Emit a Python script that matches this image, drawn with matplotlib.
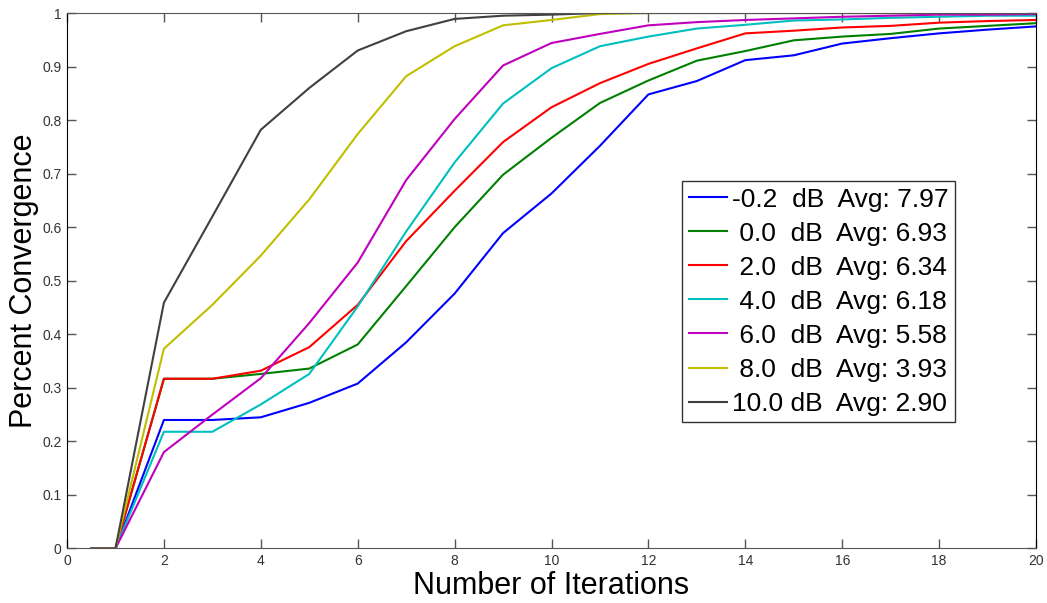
import matplotlib
matplotlib.use('Agg')
import matplotlib.pyplot as plt

# --------------------------------------------------
# Data
# --------------------------------------------------
iterations = [0.5, 1, 2, 3, 4, 5, 6, 7, 8, 9, 10, 11, 12, 13, 14, 15, 16, 17, 18, 19, 20]

snr_db = [-0.2, 0.0, 2.0, 4.0, 6.0, 8.0, 10.0]
avg_iters = [7.97, 6.93, 6.34, 6.18, 5.58, 3.93, 2.90]

conv_m02 = [0, 0, 0.240, 0.240, 0.245, 0.272, 0.308, 0.385, 0.476, 0.589, 0.663, 0.752,
            0.848, 0.873, 0.912, 0.921, 0.943, 0.953, 0.962, 0.969, 0.975]
conv_00 = [0, 0, 0.317, 0.317, 0.326, 0.336, 0.381, 0.490, 0.600, 0.698, 0.767, 0.832,
           0.874, 0.911, 0.929, 0.949, 0.956, 0.961, 0.971, 0.976, 0.981]
conv_20 = [0, 0, 0.317, 0.317, 0.332, 0.376, 0.455, 0.574, 0.668, 0.759, 0.824, 0.869,
           0.905, 0.934, 0.962, 0.967, 0.973, 0.976, 0.982, 0.985, 0.987]
conv_40 = [0, 0, 0.218, 0.218, 0.269, 0.326, 0.452, 0.592, 0.721, 0.831, 0.897, 0.938,
           0.956, 0.971, 0.978, 0.986, 0.988, 0.991, 0.993, 0.995, 0.995]
conv_60 = [0, 0, 0.180, 0.250, 0.318, 0.421, 0.534, 0.688, 0.802, 0.902, 0.944, 0.961,
           0.977, 0.983, 0.987, 0.990, 0.993, 0.995, 0.997, 0.997, 0.998]
conv_80 = [0, 0, 0.373, 0.455, 0.547, 0.652, 0.774, 0.882, 0.938, 0.977, 0.987, 0.998,
           1.0, 1.0, 1.0, 1.0, 1.0, 1.0, 1.0, 1.0, 1.0]
conv_100 = [0, 0, 0.459, 0.620, 0.782, 0.860, 0.930, 0.966, 0.989, 0.995, 0.997, 1.0,
            1.0, 1.0, 1.0, 1.0, 1.0, 1.0, 1.0, 1.0, 1.0]

curves = [conv_m02, conv_00, conv_20, conv_40, conv_60, conv_80, conv_100]
colors = ['#0000ff', '#008000', '#ff0000', '#00bfbf', '#bf00bf', '#bfbf00', '#404040']

x_ticks = [0, 2, 4, 6, 8, 10, 12, 14, 16, 18, 20]
y_ticks = [0, 0.1, 0.2, 0.3, 0.4, 0.5, 0.6, 0.7, 0.8, 0.9, 1]
y_tick_labels = ['0', '0.1', '0.2', '0.3', '0.4', '0.5', '0.6', '0.7', '0.8', '0.9', '1']

# --------------------------------------------------
# Plot
# --------------------------------------------------
plt.rcParams['font.family'] = ['Liberation Sans', 'DejaVu Sans']

fig = plt.figure(figsize=(10.47, 6.03), dpi=100)
ax = fig.add_axes([0.064, 0.0904, 0.9255, 0.888])

for snr, avg, ys, c in zip(snr_db, avg_iters, curves, colors):
    snr_txt = f"{snr:4.1f}"
    gap = ' ' if snr_txt.startswith('1') else '  '
    label = f"{snr_txt}{gap}dB  Avg: {avg:.2f}"
    ax.plot(iterations, ys, color=c, lw=1.5, label=label)

ax.set_xlim(0, 20)
ax.set_ylim(0, 1)
ax.set_xticks(x_ticks)
ax.set_yticks(y_ticks)
ax.set_yticklabels(y_tick_labels)
ax.tick_params(direction='in', length=6.5, width=1, colors='#555555', labelcolor='#333333',
               labelsize=10, top=True, right=True, pad=4)

for side in ['left', 'right']:
    ax.spines[side].set_color('black')
for side in ['top', 'bottom']:
    ax.spines[side].set_color('#555555')

ax.set_xlabel('Number of Iterations', fontsize=22, labelpad=2)
ax.set_ylabel('Percent Convergence', fontsize=22, labelpad=2)

# legend box sits at pixel (682, 181) in the 1047x603 figure
leg = ax.legend(loc='upper left', bbox_to_anchor=(682 / 1047, 1 - 181 / 603),
                bbox_transform=fig.transFigure, borderaxespad=0,
                fontsize=19, handlelength=1.45, handletextpad=0.2,
                labelspacing=0.38, borderpad=0.25, fancybox=False, framealpha=1)
leg.get_frame().set_edgecolor('#333333')
leg.get_frame().set_linewidth(1)

fig.savefig('out.png', dpi=100)
